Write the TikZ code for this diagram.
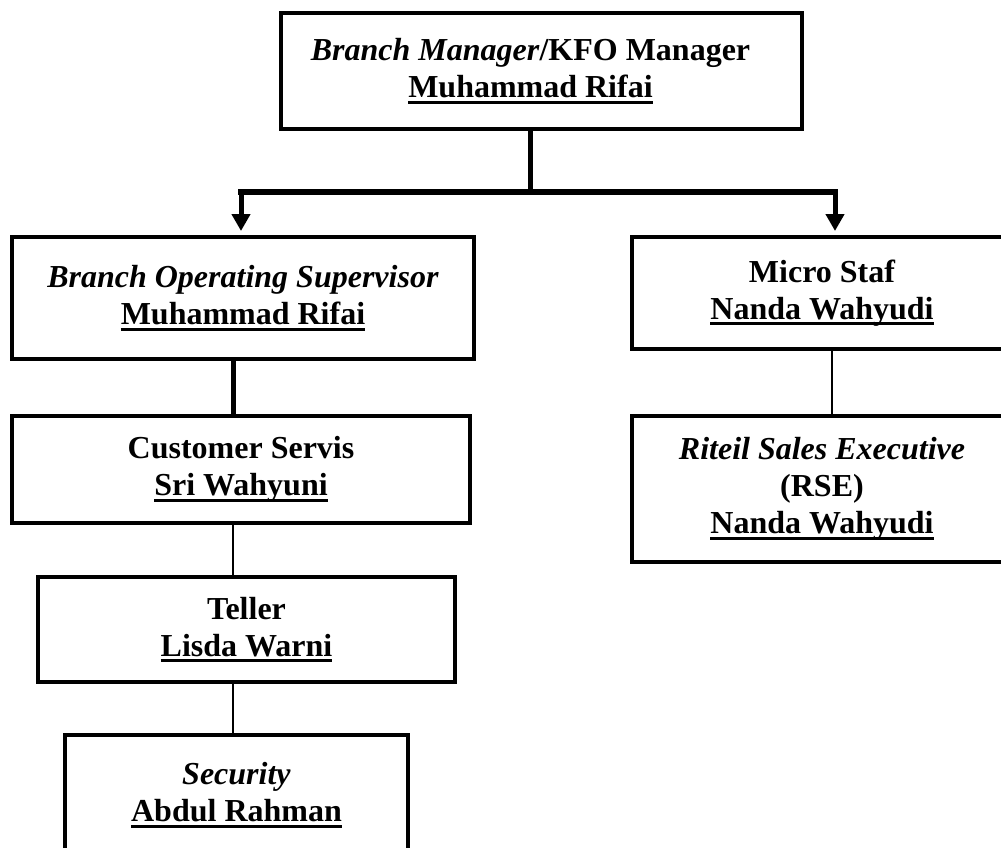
\documentclass[tikz,border=0pt]{standalone}
\usepackage{fontspec}
\setmainfont{Liberation Serif}
\usetikzlibrary{arrows.meta}
\newcommand{\nama}[1]{\leavevmode\setbox0\hbox{#1}\rlap{\rule[-3pt]{\wd0}{1.5pt}}\box0}

\begin{document}
\begin{tikzpicture}[x=0.5pt, y=-0.5pt,
    kotak/.style={draw, line width=2pt, align=center, inner sep=0pt,
      font=\fontsize{16}{18.5}\selectfont\bfseries},
    garis tebal/.style={line width=2.5pt},
    garis tipis/.style={line width=0.9pt},
    panah/.style={line width=2.5pt, -{Triangle[width=9pt,length=8.5pt]}, shorten >=2pt}]
    \useasboundingbox (0,0) rectangle (1001,847);
    \clip (0,0) rectangle (1001,847);

    \node[kotak, minimum width=260.5pt, minimum height=58pt] (manajer) at (541.5,71)
        {\textit{Branch Manager}/KFO Manager\hspace*{11pt}\\ \nama{Muhammad Rifai}\hspace*{11pt}};

    \node[kotak, minimum width=231pt, minimum height=61pt] (bos) at (243,298)
        {\textit{Branch Operating Supervisor}\\ \nama{Muhammad Rifai}};
    \node[kotak, minimum width=190pt, minimum height=56pt] (mikro) at (822,293)
        {Micro Staf\\ \nama{Nanda Wahyudi}};

    \node[kotak, minimum width=229pt, minimum height=53.5pt] (cs) at (241,469.5)
        {Customer Servis\\ \nama{Sri Wahyuni}};
    \node[kotak, minimum width=190pt, minimum height=73pt] (rse) at (822,489)
        {\textit{Riteil Sales Executive}\\ (RSE)\\ \nama{Nanda Wahyudi}};

    \node[kotak, minimum width=208.5pt, minimum height=52.5pt] (teller) at (246.5,629.5)
        {Teller\\ \nama{Lisda Warni}};
    \node[kotak, minimum width=171.5pt, minimum height=60pt] (satpam) at (236.5,795)
        {\textit{Security}\\ \nama{Abdul Rahman}};

    \coordinate (simpang) at (530,192);
    \coordinate (kiri) at (241,192);
    \coordinate (kanan) at (835,192);

    \draw[garis tebal] (manajer.south -| simpang) -- (simpang);
    \draw[line width=3pt, line cap=rect] (kiri) -- (kanan);
    \draw[panah] (kiri) -- (kiri |- bos.north);
    \draw[panah] (kanan) -- (kanan |- mikro.north);

    \draw[garis tebal] ([xshift=-5pt]bos.south) -- ([xshift=-5pt]bos.south |- cs.north);
    \draw[garis tipis] ([xshift=-4pt]cs.south) -- ([xshift=-4pt]cs.south |- teller.north);
    \draw[garis tipis] ([xshift=-6.75pt]teller.south) -- ([xshift=-6.75pt]teller.south |- satpam.north);
    \draw[garis tipis] ([xshift=5pt]mikro.south) -- ([xshift=5pt]mikro.south |- rse.north);
\end{tikzpicture}
\end{document}
